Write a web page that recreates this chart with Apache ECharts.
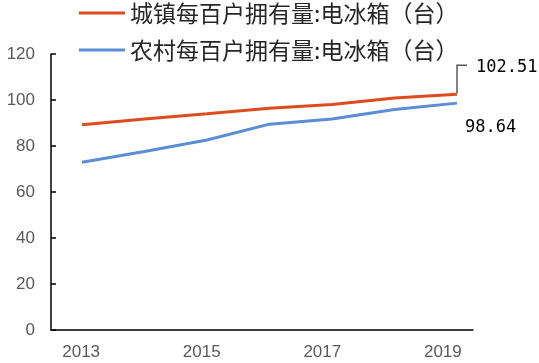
<!DOCTYPE html>
<html><head><meta charset="utf-8">
<script src="https://cdn.jsdelivr.net/npm/echarts@6/dist/echarts.min.js"></script>
<style>html,body{margin:0;padding:0;background:#fff;}#c{width:539px;height:363px;}</style>
</head><body><div id="c"></div>
<script>
var years = [2013, 2014, 2015, 2016, 2017, 2018, 2019];
var yearLabels = ['2013', '2014', '2015', '2016', '2017', '2018', '2019'];
var urban = [89.2, 91.7, 94.0, 96.4, 98.0, 100.9, 102.51];
var rural = [72.9, 77.6, 82.6, 89.5, 91.7, 95.9, 98.64];
var urbanName = '城镇每百户拥有量:电冰箱（台）';
var ruralName = '农村每百户拥有量:电冰箱（台）';
var yTicks = {min: 0, max: 120, interval: 20};

function pairs(vals){ return years.map(function(y,i){ return [y, vals[i]]; }); }

var chart = echarts.init(document.getElementById('c'), null, {renderer:'canvas'});
chart.setOption({
  animation: false,
  backgroundColor: '#fff',
  grid: {left: 51, right: 66, top: 54, bottom: 33, containLabel: false},
  legend: {
    orient: 'vertical', left: 79, top: 0, itemWidth: 46, itemHeight: 3, itemGap: 11,
    icon: 'rect', padding: 0,
    textStyle: {fontFamily: '"Noto Sans CJK SC"', fontSize: 23, color: '#262626', lineHeight: 26},
    data: [urbanName, ruralName]
  },
  xAxis: [{
    type: 'category', data: yearLabels, boundaryGap: true,
    axisLine: {lineStyle: {color: '#000', width: 1.5}},
    axisTick: {inside: true, length: 5, interval: 1, lineStyle: {color: '#000', width: 1.5}},
    axisLabel: {interval: 1, margin: 14, color: '#595959', fontSize: 17, fontFamily: 'Liberation Sans'}
  }, {
    type: 'value', min: 2012.504, max: 2019.256, show: false
  }],
  yAxis: {
    type: 'value', min: yTicks.min, max: yTicks.max, interval: yTicks.interval,
    splitLine: {show: false},
    axisLine: {show: true, lineStyle: {color: '#000', width: 1.5}},
    axisTick: {show: true, inside: true, length: 5, lineStyle: {color: '#000', width: 1.5}},
    axisLabel: {margin: 16, color: '#595959', fontSize: 17, fontFamily: 'Liberation Sans'}
  },
  series: [{
    name: urbanName, type: 'line', xAxisIndex: 1, data: pairs(urban),
    showSymbol: false, symbol: 'none',
    lineStyle: {color: '#DD4B1E', width: 3}, itemStyle: {color: '#DD4B1E'},
    endLabel: {show: true, formatter: function(p){ return p.value[1].toFixed(2); },
      distance: 8, offset: [11, -27], color: '#000', fontSize: 17, fontFamily: 'DejaVu Sans Mono'}
  }, {
    name: ruralName, type: 'line', xAxisIndex: 1, data: pairs(rural),
    showSymbol: false, symbol: 'none',
    lineStyle: {color: '#5A8DD6', width: 3}, itemStyle: {color: '#5A8DD6'},
    endLabel: {show: true, formatter: function(p){ return p.value[1].toFixed(2); },
      distance: 8, offset: [0, 24], color: '#000', fontSize: 17, fontFamily: 'DejaVu Sans Mono'}
  }, {
    type: 'custom', xAxisIndex: 1, silent: true, z: 1,
    data: [[years[years.length-1], urban[urban.length-1]]],
    renderItem: function(params, api){
      var p = api.coord([api.value(0), api.value(1)]);
      return {type: 'polyline', shape: {points: [[p[0], p[1]-1], [p[0], p[1]-29], [p[0]+10, p[1]-29]]},
        style: {stroke: '#595959', lineWidth: 1.5, fill: null}};
    }
  }]
});
</script></body></html>
